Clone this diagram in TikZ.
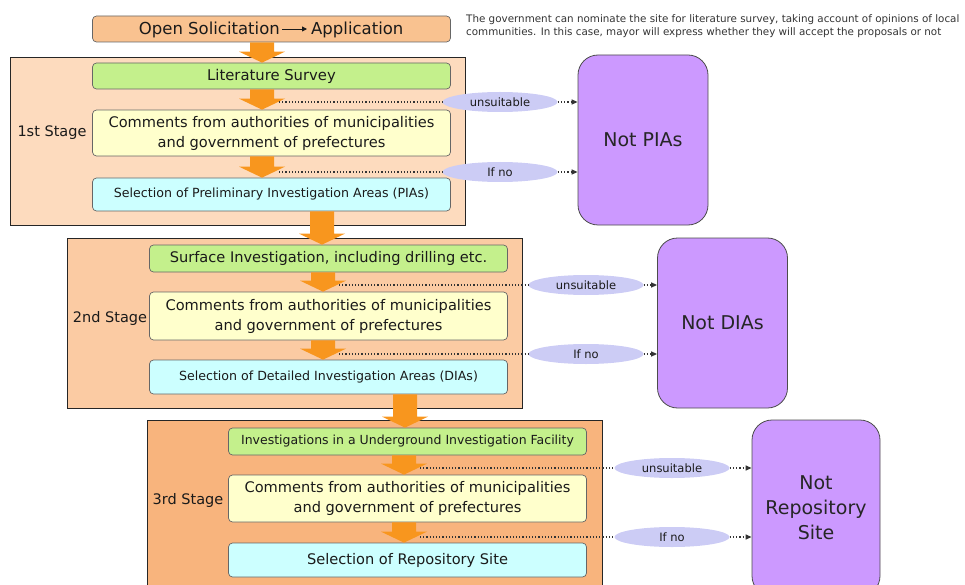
\documentclass[tikz,border=0pt]{standalone}
\usepackage{fontspec}
\setmainfont{DejaVu Sans}
\usetikzlibrary{calc,arrows.meta,shapes.geometric}
\definecolor{stageA}{HTML}{FDDBBE}
\definecolor{stageB}{HTML}{FBCBA3}
\definecolor{stageC}{HTML}{F8B47D}
\definecolor{openc}{HTML}{F9C290}
\definecolor{flowc}{HTML}{F8961E}
\definecolor{notc}{HTML}{CC99FF}
\definecolor{tagc}{HTML}{CCCCF5}
\definecolor{greenc}{HTML}{C4F08C}
\definecolor{yellowc}{HTML}{FFFFCC}
\definecolor{cyanc}{HTML}{CCFFFF}
\definecolor{txt}{HTML}{1A1A1A}
\newcommand{\flowarrow}[3]{%
  \fill[flowc] let \p1=(#1.south), \p2=(#2.north) in
   (#3pt-12pt,\y1) -- (#3pt+12pt,\y1) -- (#3pt+12pt,\y2+11pt) -- (#3pt+23pt,\y2+11pt)
   -- (#3pt,\y2) -- (#3pt-23pt,\y2+11pt) -- (#3pt-12pt,\y2+11pt) -- cycle;}
\begin{document}
\begin{tikzpicture}[x=1pt,y=-1pt,
  stagebox/.style={draw=black!85, line width=0.8pt, inner sep=0pt, minimum width=455, text=txt},
  box/.style={draw=black!60, line width=0.7pt, rounded corners=4pt, align=center, inner sep=0pt, minimum width=358, text=txt},
  notbox/.style={draw=black!70, line width=0.8pt, fill=notc, rounded corners=20pt, align=center, inner sep=0pt, minimum width=130, minimum height=170, font=\fontsize{19}{25}\selectfont, text=black!85},
  tag/.style={ellipse, fill=tagc, minimum width=115, minimum height=20, inner sep=0pt, font=\fontsize{11.5}{12}\selectfont, text=txt},
  dotline/.style={dotted, line width=1.2pt, black!80},
  stagelabel/.style={font=\fontsize{14.5}{16}\selectfont, text=txt},
  opentext/.style={inner sep=0pt, font=\fontsize{16.5}{18}\selectfont, text=txt}
]
\useasboundingbox (0,0) rectangle (965,585);
\clip (0,0) rectangle (965,585);

% stage boxes
\node[stagebox, fill=stageA, minimum height=168] (s1) at (238,141) {};
\node[stagebox, fill=stageB, minimum height=170] (s2) at (294.5,323) {};
\node[stagebox, fill=stageC, minimum height=180] (s3) at (374.5,510) {};

\node[stagelabel] (l1) at (52,133) {1st Stage};
\node[stagelabel] (l2) at (110,318) {2nd Stage};
\node[stagelabel] (l3) at (188,500) {3rd Stage};

% boxes
\node[box, fill=openc, minimum height=26] (open) at (271.5,29) {};
\node[opentext, anchor=base east] (os) at (280,35) {Open Solicitation};
\node[opentext, anchor=base west] (ap) at (311,35) {Application};
\draw[txt, line width=0.9pt, -{Triangle[length=5pt,width=5pt]}] (os.east |- 0,29) ++(2,0) -- ($(ap.west |- 0,29)+(-4,0)$);

\node[box, fill=greenc, minimum height=26, font=\fontsize{14.8}{16}\selectfont] (lit) at (271.5,76) {Literature Survey};
\node[box, fill=yellowc, minimum height=46, font=\fontsize{14.6}{20}\selectfont] (c1) at (271.5,133) {Comments from authorities of municipalities\\and government of prefectures};
\node[box, fill=cyanc, minimum height=33, font=\fontsize{12.6}{14}\selectfont] (pia) at (271.5,194.5) {Selection of Preliminary Investigation Areas (PIAs)};

\node[box, fill=greenc, minimum height=27, font=\fontsize{14.6}{16}\selectfont] (surf) at (328.5,258.5) {Surface Investigation, including drilling etc.};
\node[box, fill=yellowc, minimum height=48, font=\fontsize{14.6}{20}\selectfont] (c2) at (328.5,316) {Comments from authorities of municipalities\\and government of prefectures};
\node[box, fill=cyanc, minimum height=34, font=\fontsize{12.6}{14}\selectfont] (dia) at (328.5,377) {Selection of Detailed Investigation Areas (DIAs)};

\node[box, fill=greenc, minimum height=27, font=\fontsize{12.5}{14}\selectfont] (uif) at (407.5,441.5) {Investigations in a Underground Investigation Facility};
\node[box, fill=yellowc, minimum height=47, font=\fontsize{14.6}{20}\selectfont] (c3) at (407.5,498.5) {Comments from authorities of municipalities\\and government of prefectures};
\node[box, fill=cyanc, minimum height=34, font=\fontsize{14.6}{16}\selectfont] (rep) at (407.5,560) {Selection of Repository Site};

% flow arrows
\flowarrow{open}{lit}{262}
\flowarrow{lit}{c1}{262}
\flowarrow{c1}{pia}{262}
\flowarrow{pia}{surf}{322}
\flowarrow{surf}{c2}{323}
\flowarrow{c2}{dia}{323}
\flowarrow{dia}{uif}{405}
\flowarrow{uif}{c3}{404}
\flowarrow{c3}{rep}{404}

% not boxes
\node[notbox] (npia) at (643,140) {Not PIAs};
\node[notbox] (ndia) at (722.5,323) {Not DIAs};
\node[notbox, minimum height=176, minimum width=128] (nrep) at (816,508) {Not\\Repository\\Site};

% tags
\node[tag] (t1u) at (500,102) {unsuitable};
\node[tag] (t1n) at (500,172) {If no};
\node[tag] (t2u) at (586,285) {unsuitable};
\node[tag] (t2n) at (586,354) {If no};
\node[tag] (t3u) at (672,468) {unsuitable};
\node[tag] (t3n) at (672,537) {If no};

\coordinate (d1u) at (279,102);
\coordinate (d1n) at (279,172);
\coordinate (d2u) at (339,285);
\coordinate (d2n) at (339,354);
\coordinate (d3u) at (420,468);
\coordinate (d3n) at (420,537);

\foreach \a/\t/\b in {d1u/t1u/npia, d1n/t1n/npia, d2u/t2u/ndia, d2n/t2n/ndia, d3u/t3u/nrep, d3n/t3n/nrep}{
  \draw[dotline] (\a) -- (\t.west);
  \draw[dotline, -{Triangle[length=6pt,width=5pt]}] (\t.east) -- (\t.east -| \b.west);
}

% annotation
\node[anchor=north west, align=left, inner sep=0pt, font=\fontsize{10.35}{13.5}\selectfont, text=black!80] (note) at (466,14)
 {The government can nominate the site for literature survey, taking account of opinions of local\\communities. In this case, mayor will express whether they will accept the proposals or not};
\end{tikzpicture}
\end{document}
